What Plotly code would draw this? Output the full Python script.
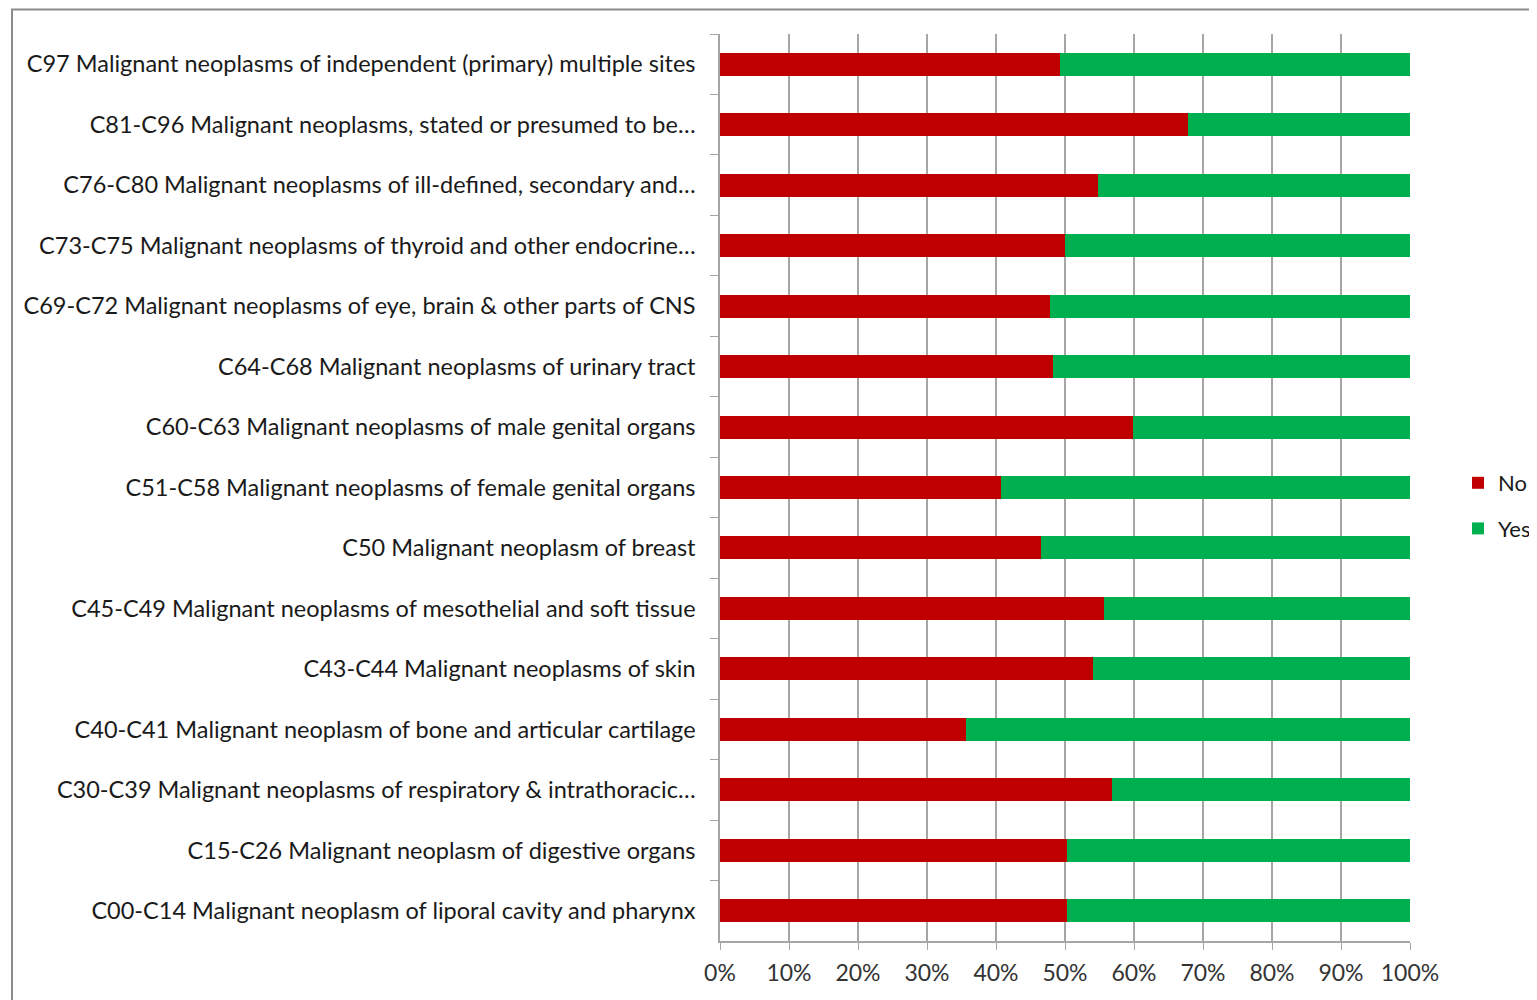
import plotly.graph_objects as go

categories = [
    "C97 Malignant neoplasms of independent (primary) multiple sites",
    "C81-C96 Malignant neoplasms, stated or presumed to be…",
    "C76-C80 Malignant neoplasms of ill-defined, secondary and…",
    "C73-C75 Malignant neoplasms of thyroid and other endocrine…",
    "C69-C72 Malignant neoplasms of eye, brain & other parts of CNS",
    "C64-C68 Malignant neoplasms of urinary tract",
    "C60-C63 Malignant neoplasms of male genital organs",
    "C51-C58 Malignant neoplasms of female genital organs",
    "C50 Malignant neoplasm of breast",
    "C45-C49 Malignant neoplasms of mesothelial and soft tissue",
    "C43-C44 Malignant neoplasms of skin",
    "C40-C41 Malignant neoplasm of bone and articular cartilage",
    "C30-C39 Malignant neoplasms of respiratory & intrathoracic…",
    "C15-C26 Malignant neoplasm of digestive organs",
    "C00-C14 Malignant neoplasm of liporal cavity and pharynx",
]
no_pct = [49.3, 67.8, 54.8, 50.0, 47.8, 48.3, 59.9, 40.7, 46.5, 55.7, 54.1, 35.7, 56.8, 50.3, 50.3]
yes_pct = [round(100 - v, 1) for v in no_pct]
x_ticks = [0, 10, 20, 30, 40, 50, 60, 70, 80, 90, 100]
x_tick_labels = [f"{t}%" for t in x_ticks]

FONT = "Lato"
OFF = 8  # page offset of the figure inside the window
W, H = 1537 - OFF, 1000 - OFF
# target pixel positions (window coordinates) converted to figure coordinates
L = 720 - OFF
R = W - (1410 - OFF)
T = 34 - OFF
B = H - (941 - OFF)
PW, PH = W - L - R, H - T - B


def px_x(p):
    return (p - OFF - L) / PW


def px_y(p):
    return (H - B - (p - OFF)) / PH


fig = go.Figure()
fig.add_trace(go.Bar(y=categories, x=no_pct, name="No", orientation="h", legendgroup="no",
                     marker=dict(color="#C00000", line=dict(width=0))))
fig.add_trace(go.Bar(y=categories, x=yes_pct, name="Yes", orientation="h", legendgroup="yes",
                     marker=dict(color="#00B050", line=dict(width=0))))

fig.update_layout(
    width=W, height=H,
    margin=dict(l=L, r=R, t=T, b=B, autoexpand=False),
    barmode="stack", bargap=0.62,
    paper_bgcolor="white", plot_bgcolor="white",
    font=dict(family=FONT, size=23, color="#1a1a1a"),
    showlegend=True,
    legend=dict(x=px_x(1458), y=px_y(506), xanchor="left", yanchor="middle",
                traceorder="grouped", font=dict(size=22, family=FONT),
                itemwidth=30, tracegroupgap=14, bgcolor="rgba(0,0,0,0)"),
    xaxis=dict(range=[0, 100], tickvals=x_ticks, ticktext=x_tick_labels,
               showgrid=True, gridcolor="#a6a6a6", gridwidth=1.5,
               ticks="outside", ticklen=7, tickcolor="#a6a6a6",
               showline=True, linecolor="#a6a6a6", linewidth=1.5,
               zeroline=False, ticklabelstandoff=4,
               tickfont=dict(size=23, family=FONT, color="#333333")),
    yaxis=dict(autorange="reversed", type="category",
               tickson="boundaries", ticks="outside", ticklen=8, tickcolor="#a6a6a6",
               showline=True, linecolor="#a6a6a6", linewidth=1.5,
               showgrid=False, ticklabelstandoff=18,
               tickfont=dict(size=23.5, family=FONT, color="#1a1a1a")),
    shapes=[dict(type="rect", xref="paper", yref="paper",
                 x0=px_x(12), x1=px_x(1560), y0=px_y(1020), y1=px_y(9.5),
                 line=dict(color="#8c8c8c", width=2), fillcolor="rgba(0,0,0,0)", layer="below")],
)

fig.write_html("out.html")
